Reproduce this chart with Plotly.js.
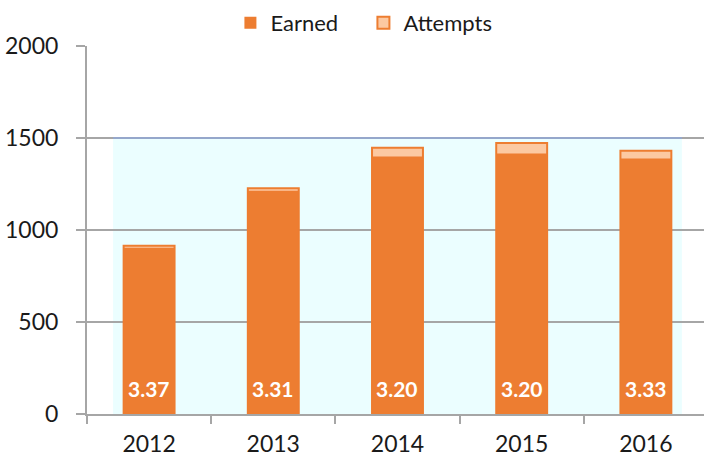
<!DOCTYPE html>
<html>
<head>
<meta charset="utf-8">
<script src="https://cdn.plot.ly/plotly-3.0.1.min.js"></script>
<style>
  html, body { margin: 0; padding: 0; background: #fff; }
  #chart { width: 704px; height: 459px; }
</style>
</head>
<body>
<div id="chart"></div>
<script>
// values
var years = ['2012', '2013', '2014', '2015', '2016'];
var earned = [903, 1213, 1400, 1416, 1389];
var attempts = [915, 1227, 1447, 1473, 1431];
var gpa = ['3.37', '3.31', '3.20', '3.20', '3.33'];

var orange = '#ed7d31';
var peach = '#fcc9a2';
var grey = '#a6a6a6';

var traceAttempts = {
    x: years,
    y: attempts,
    type: 'bar',
    name: 'Attempts',
    width: 0.41,
    legendrank: 2,
    marker: {color: peach, line: {color: orange, width: 2}},
    hoverinfo: 'skip'
};
var traceEarned = {
    x: years,
    y: earned,
    type: 'bar',
    name: 'Earned',
    width: 0.41,
    legendrank: 1,
    marker: {color: orange, line: {width: 0}},
    hoverinfo: 'skip'
};

// GPA labels sitting at the foot of each bar (x = category index)
var labels = gpa.map(function (g, i) {
    return {
        x: i, y: 0, xref: 'x', yref: 'y',
        yanchor: 'bottom', yshift: 11,
        text: '<b>' + g + '</b>',
        showarrow: false,
        font: {family: 'Lato, sans-serif', size: 21, color: '#ffffff'}
    };
});

var layout = {
    width: 704,
    height: 459,
    margin: {l: 87, r: 0, t: 46, b: 45},
    paper_bgcolor: '#ffffff',
    plot_bgcolor: '#ffffff',
    font: {family: 'Lato, sans-serif', size: 23, color: '#1a1a1a'},
    barmode: 'overlay',
    showlegend: true,
    legend: {
        orientation: 'h',
        x: 0.448, xanchor: 'center',
        y: 1.12, yanchor: 'top',
        font: {size: 22},
        itemwidth: 30,
        entrywidth: 88,
        entrywidthmode: 'pixels'
    },
    xaxis: {
        type: 'category',
        range: [-0.5, 4.468],
        tickson: 'boundaries',
        ticks: 'outside',
        ticklen: 8,
        tickwidth: 2,
        tickcolor: grey,
        showline: true,
        linecolor: grey,
        linewidth: 2,
        showgrid: false,
        ticklabelstandoff: 8,
        fixedrange: true
    },
    yaxis: {
        range: [0, 2000],
        dtick: 500,
        ticks: 'outside',
        ticklen: 9,
        tickwidth: 2,
        tickcolor: grey,
        showline: true,
        linecolor: grey,
        linewidth: 2,
        showgrid: true,
        gridcolor: grey,
        gridwidth: 2,
        zeroline: false,
        ticklabelstandoff: 13,
        fixedrange: true
    },
    shapes: [
        {type: 'rect', layer: 'below', xref: 'x', yref: 'y',
         x0: -0.29, x1: 4.29, y0: 0, y1: 1500,
         fillcolor: '#ebfeff', line: {width: 0}},
        {type: 'line', layer: 'between', xref: 'x', yref: 'y',
         x0: -0.29, x1: 4.29, y0: 1500, y1: 1500,
         line: {color: '#95a7cb', width: 2}}
    ],
    annotations: labels
};

Plotly.newPlot('chart', [traceAttempts, traceEarned], layout, {displayModeBar: false, staticPlot: true});
</script>
</body>
</html>
